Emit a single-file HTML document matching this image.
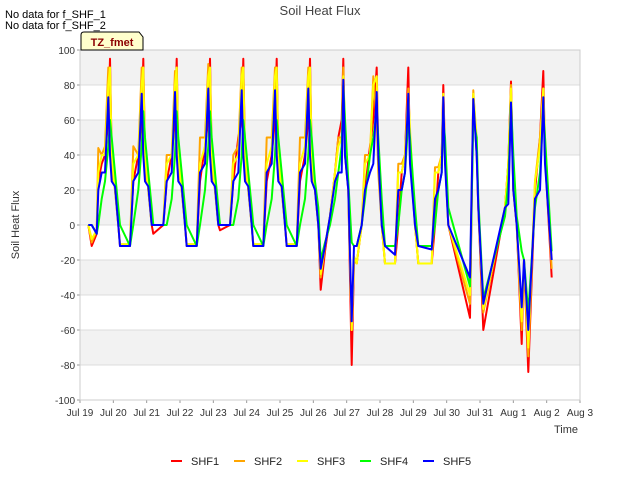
<!DOCTYPE html>
<html><head><meta charset="utf-8"><style>
body{margin:0;background:#fff;font-family:"Liberation Sans","DejaVu Sans",sans-serif}
svg text{font-family:"Liberation Sans","DejaVu Sans",sans-serif}
</style></head><body>
<svg id="chart" width="640" height="480" xmlns="http://www.w3.org/2000/svg">
<rect width="640" height="480" fill="#fff"/>
<g id="bands"></g><g id="grid"></g><g id="series"></g><g id="axes"></g>
<text x="320" y="15" text-anchor="middle" font-size="13" fill="#444">Soil Heat Flux</text>
<text x="5" y="18" font-size="11" fill="#000">No data for f_SHF_1</text>
<text x="5" y="29" font-size="11" fill="#000">No data for f_SHF_2</text>
<g>
<path d="M81,50 L81,35 Q81,32 84,32 L139,32 L143,37 L143,50 Z" fill="#ffffcc" stroke="#000" stroke-width="1"/>
<text x="112" y="46" text-anchor="middle" font-size="11" font-weight="bold" fill="#8b0000">TZ_fmet</text>
</g>
<text x="19" y="225" transform="rotate(-90 19 225)" text-anchor="middle" font-size="11" fill="#333">Soil Heat Flux</text>
<text x="566" y="433" text-anchor="middle" font-size="11" fill="#333">Time</text>
<g id="legend"></g>
</svg>
<script>
const xTickLabels=["Jul 19","Jul 20","Jul 21","Jul 22","Jul 23","Jul 24","Jul 25","Jul 26","Jul 27","Jul 28","Jul 29","Jul 30","Jul 31","Aug 1","Aug 2","Aug 3"];
const yTicks=[-100,-80,-60,-40,-20,0,20,40,60,80,100];
const seriesNames=["SHF1","SHF2","SHF3","SHF4","SHF5"];
const seriesColors=["#ff0000","#ffa500","#ffff00","#00ff00","#0000ff"];
const times=[0.25,0.35,0.5,0.55,0.65,0.75,0.85,0.9,0.95,
1.05,1.15,1.2,1.5,1.6,1.75,1.85,1.9,1.95,
2.05,2.15,2.2,2.5,2.6,2.75,2.85,2.9,2.95,
3.05,3.15,3.2,3.5,3.6,3.75,3.85,3.9,3.95,
4.05,4.15,4.2,4.5,4.6,4.75,4.85,4.9,4.95,
5.05,5.15,5.2,5.5,5.6,5.75,5.85,5.9,5.95,
6.05,6.15,6.2,6.5,6.6,6.75,6.85,6.9,6.95,
7.05,7.15,7.22,7.35,7.5,7.65,7.75,7.85,7.9,7.95,
8.05,8.15,8.22,8.3,8.45,8.55,8.7,8.8,8.9,8.95,
9.05,9.15,9.45,9.55,9.65,9.75,9.85,9.9,
10.05,10.15,10.55,10.65,10.75,10.85,10.9,10.95,
11.05,11.7,11.8,11.9,11.95,
12.1,12.75,12.85,12.93,13.0,
13.1,13.25,13.32,13.45,13.65,13.8,13.9,13.95,14.15];
const shf1=[0,-12,-5,25,35,40,60,95,40,
20,0,-12,-12,25,40,60,95,40,
20,0,-5,0,25,40,60,95,40,
20,0,-12,-12,25,45,60,95,40,
20,0,-3,0,25,50,60,95,40,
20,0,-12,-12,25,40,60,95,40,
20,0,-12,-12,25,40,60,95,40,
20,0,-37,-15,5,30,50,60,95,40,
20,-80,-20,-22,0,20,45,60,90,40,
0,-22,-22,0,30,40,90,40,
0,-22,-22,0,30,40,80,40,
0,-53,75,40,10,
-60,10,35,82,20,
0,-68,-20,-84,20,50,88,40,-30];
const shf2=[0,-10,-3,44,40,45,90,60,30,
22,0,-11,-11,45,40,90,60,30,
22,0,0,0,40,40,88,60,30,
22,0,-11,-11,50,50,92,60,30,
22,0,0,0,40,45,90,60,30,
22,0,-11,-11,50,50,90,60,30,
22,0,-11,-11,50,50,90,60,30,
20,0,-30,-12,5,30,50,50,90,50,
20,-60,-18,-22,0,40,40,85,60,30,
0,-22,-22,35,35,40,78,50,
0,-22,-22,33,33,40,73,40,
0,-45,77,45,10,
-50,10,35,80,20,
0,-60,-20,-75,25,50,78,40,-25];
const shf3=[0,-8,-3,30,40,40,80,90,40,
20,0,-11,-11,35,40,80,90,40,
20,0,0,0,35,40,80,90,40,
20,0,-11,-11,35,45,85,90,40,
20,0,0,0,35,40,85,90,40,
20,0,-11,-11,35,45,85,90,40,
20,0,-11,-11,35,45,85,90,40,
20,0,-28,-12,5,30,45,50,85,60,
20,-60,-18,-22,0,35,40,80,85,40,
0,-22,-22,30,30,40,75,55,
0,-22,-22,30,30,40,75,40,
0,-40,75,50,10,
-48,10,35,78,25,
0,-55,-20,-70,25,45,78,50,-20];
const shf4=[0,0,-5,0,15,25,45,60,50,
30,10,0,-12,0,20,45,65,50,
30,10,0,0,0,15,40,65,50,
30,10,0,-12,0,20,45,65,50,
30,10,0,0,0,15,40,60,50,
30,10,0,-12,0,15,40,60,50,
30,10,0,-12,0,15,40,60,50,
25,10,-20,-10,0,15,30,45,80,60,
25,-10,-12,-12,0,15,40,50,65,50,
15,-12,-12,0,20,30,60,50,
10,-12,-12,0,20,30,60,50,
10,-35,60,50,15,
-42,5,25,70,40,
5,-15,-20,-50,10,30,65,50,-15];
const shf5=[0,0,-5,20,30,30,73,40,25,
22,0,-12,-12,25,30,75,40,25,
22,0,0,0,25,30,76,40,25,
22,0,-12,-12,30,35,78,40,25,
22,0,0,0,25,30,77,40,25,
22,0,-12,-12,30,35,77,40,25,
22,0,-12,-12,30,35,78,40,25,
20,0,-25,-12,5,25,30,30,83,40,
20,-55,-12,-12,0,20,30,35,76,40,
0,-12,-17,20,20,30,75,35,
0,-12,-14,15,20,30,73,35,
0,-30,72,40,10,
-45,10,12,70,20,
0,-47,-20,-60,15,20,73,35,-20];

const NS="http://www.w3.org/2000/svg";
const L=80,R=580,T=50,B=400;
const xS=d=>L+d*(R-L)/15;
const yS=v=>B-(v+100)*(B-T)/200;
function mk(tag,attrs,parent){const e=document.createElementNS(NS,tag);for(const k in attrs)e.setAttribute(k,attrs[k]);parent.appendChild(e);return e;}
const bands=document.getElementById('bands'),grid=document.getElementById('grid'),axes=document.getElementById('axes'),ser=document.getElementById('series'),leg=document.getElementById('legend');
mk('rect',{x:L,y:T,width:R-L,height:B-T,fill:'#fff'},bands);
for(let v=-80;v<100;v+=40){const r=mk('rect',{x:L,y:yS(v+20),width:R-L,height:yS(v)-yS(v+20),fill:'#f2f2f2'},bands);

}
yTicks.forEach(v=>{const ln=mk('line',{x1:L,x2:R,y1:yS(v),y2:yS(v),stroke:'#dcdcdc','stroke-width':1},grid);


const t=mk('text',{x:L-5,y:yS(v)+4,'text-anchor':'end','font-size':10,fill:'#333'},axes);t.textContent=v;


mk('line',{x1:L-3,x2:L,y1:yS(v),y2:yS(v),stroke:'#999'},axes);});
xTickLabels.forEach((s,i)=>{const t=mk('text',{x:xS(i),y:B+16,'text-anchor':'middle','font-size':10,fill:'#333'},axes);t.textContent=s;


mk('line',{x1:xS(i),x2:xS(i),y1:B,y2:B+3,stroke:'#999'},axes);});
mk('rect',{x:L,y:T,width:R-L,height:B-T,fill:'none',stroke:'#ccc'},axes);
const data=[shf1,shf2,shf3,shf4,shf5];
data.forEach((arr,si)=>{const d=arr.map((v,i)=>(i?'L':'M')+xS(times[i]).toFixed(1)+','+yS(v).toFixed(1)).join('');
const p=mk('path',{d:d,fill:'none',stroke:seriesColors[si],'stroke-width':2,'stroke-linejoin':'round'},ser);

});
seriesNames.forEach((n,i)=>{const x0=171+i*63;const g=mk('g',{},leg);


mk('line',{x1:x0,x2:x0+11,y1:461,y2:461,stroke:seriesColors[i],'stroke-width':2},g);
const t=mk('text',{x:x0+20,y:465,'font-size':11,fill:'#222'},g);t.textContent=n;});
</script>
</body></html>
